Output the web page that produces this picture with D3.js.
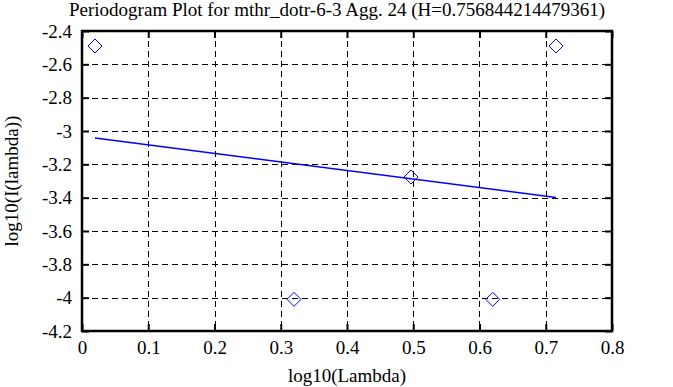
<!DOCTYPE html>
<html><head><meta charset="utf-8">
<script src="https://cdn.jsdelivr.net/npm/d3@7"></script>
<style>
html,body{margin:0;padding:0;background:#fff;}
</style></head>
<body>
<svg id="c" width="673" height="387"></svg>
<script>
const title = "Periodogram Plot for mthr_dotr-6-3 Agg. 24 (H=0.756844214479361)";
const xLabel = "log10(Lambda)";
const yLabel = "log10(I(lambda))";
const xTicks = [0, 0.1, 0.2, 0.3, 0.4, 0.5, 0.6, 0.7, 0.8];
const yTicks = [-2.4, -2.6, -2.8, -3, -3.2, -3.4, -3.6, -3.8, -4, -4.2];
const pointX = [0.0196, 0.32, 0.4966, 0.62, 0.7155];
const pointY = [-2.49, -4.01, -3.276, -4.01, -2.49];
const fitX = [0.0196, 0.7155];
const fitY = [-3.042, -3.399];

const FONT = "'Liberation Serif', 'Times New Roman', serif";
const svg = d3.select("#c");
const L = 82, R = 612, T = 31, B = 331;
const x = d3.scaleLinear().domain([0, 0.8]).range([L, R]);
const y = d3.scaleLinear().domain([-4.2, -2.4]).range([B, T]);

// grid
const grid = svg.append("g").attr("stroke", "#000").attr("stroke-width", 1).attr("stroke-dasharray", "6,4");
xTicks.slice(1, -1).forEach(t => {
  grid.append("line").attr("x1", Math.round(x(t)) + 0.5).attr("x2", Math.round(x(t)) + 0.5).attr("y1", T).attr("y2", B);
});
yTicks.slice(1, -1).forEach(t => {
  grid.append("line").attr("y1", Math.round(y(t)) + 0.5).attr("y2", Math.round(y(t)) + 0.5).attr("x1", L).attr("x2", R);
});

// axes with inward ticks
const fmt = d => String(+(+d).toFixed(2));
const xb = svg.append("g").attr("transform", `translate(0,${B})`)
  .call(d3.axisBottom(x).tickValues(xTicks).tickSize(-7).tickPadding(10).tickFormat(fmt));
const xt = svg.append("g").attr("transform", `translate(0,${T})`)
  .call(d3.axisTop(x).tickValues(xTicks).tickSize(-7).tickFormat(""));
const yl = svg.append("g").attr("transform", `translate(${L},0)`)
  .call(d3.axisLeft(y).tickValues(yTicks).tickSize(-7).tickPadding(10).tickFormat(fmt));
const yr = svg.append("g").attr("transform", `translate(${R},0)`)
  .call(d3.axisRight(y).tickValues(yTicks).tickSize(-7).tickFormat(""));
[xb, xt, yl, yr].forEach(g => {
  g.attr("font-family", null).attr("font-size", null);
  g.select(".domain").remove();
  g.selectAll(".tick line").attr("stroke", "#000").attr("stroke-width", 2);
  g.selectAll(".tick text").style("font-size", "19px").style("font-family", FONT).attr("fill", "#000");
});
xb.selectAll(".tick text").attr("dy", "0.71em");

// frame
svg.append("rect").attr("x", L).attr("y", T).attr("width", R - L).attr("height", B - T)
  .attr("fill", "none").attr("stroke", "#000").attr("stroke-width", 2.5);

// fit line
svg.append("line").attr("x1", x(fitX[0])).attr("y1", y(fitY[0])).attr("x2", x(fitX[1])).attr("y2", y(fitY[1]))
  .attr("stroke", "#0000ff").attr("stroke-width", 1.5);

// points
const pts = pointX.map((v, i) => [v, pointY[i]]);
svg.append("g").selectAll("path").data(pts).join("path")
  .attr("d", d => { const cx = x(d[0]), cy = y(d[1]), r = 7;
    return `M${cx},${cy - r}L${cx + r},${cy}L${cx},${cy + r}L${cx - r},${cy}Z`; })
  .attr("fill", "none").attr("stroke", "#0000ff").attr("stroke-width", 1);

// labels
const lab = (sel) => sel.style("font-family", FONT).style("font-size", "19px").attr("fill", "#000");
lab(svg.append("text").attr("x", 337).attr("y", 16).attr("text-anchor", "middle").text(title));
lab(svg.append("text").attr("x", 347).attr("y", 382).attr("text-anchor", "middle").text(xLabel));
lab(svg.append("text").attr("transform", "translate(18,181) rotate(-90)").attr("text-anchor", "middle").text(yLabel));
</script>
</body></html>
